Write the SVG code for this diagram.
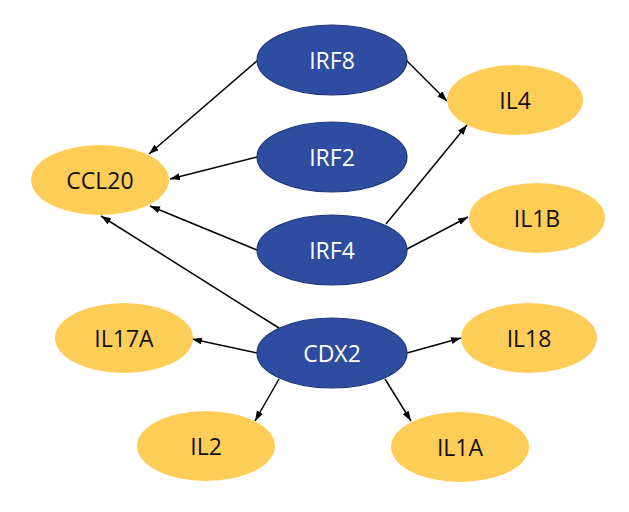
<svg xmlns="http://www.w3.org/2000/svg" width="629" height="512" viewBox="0 0 629 512">
<style>
.tf ellipse{fill:#2E4DA0;stroke:#1E3778;stroke-width:1.2}
.tf text{fill:#ffffff}
.tg ellipse{fill:#FECD58}
.tg text{fill:#111111}
text{font-family:"Open Sans","Noto Sans",sans-serif;font-size:23px;text-anchor:middle}
.edges line{stroke:#000;stroke-width:1.5;marker-end:url(#arr)}
</style>
<defs>
<marker id="arr" markerUnits="userSpaceOnUse" markerWidth="11" markerHeight="8" refX="10" refY="3.5" orient="auto">
<path d="M0,0 L10,3.5 L0,7 z" fill="#000"/>
</marker>
</defs>
<rect width="629" height="512" fill="#ffffff"/>
<g class="edges">
<line x1="257" y1="61" x2="149" y2="154"/>
<line x1="257" y1="157" x2="170" y2="179"/>
<line x1="257" y1="250" x2="150" y2="206"/>
<line x1="279" y1="328" x2="101" y2="216"/>
<line x1="406" y1="60" x2="447" y2="101"/>
<line x1="386" y1="224" x2="467" y2="125"/>
<line x1="407" y1="249" x2="468" y2="217"/>
<line x1="257" y1="353" x2="192" y2="339"/>
<line x1="279" y1="379" x2="255" y2="421"/>
<line x1="407" y1="353" x2="461" y2="338"/>
<line x1="385" y1="379" x2="411" y2="421"/>
</g>
<g id="IRF8" class="tf"><ellipse cx="332" cy="60" rx="75" ry="35"/><text x="332" y="69">IRF8</text></g>
<g id="IRF2" class="tf"><ellipse cx="332" cy="157" rx="75" ry="35"/><text x="332" y="166">IRF2</text></g>
<g id="IRF4" class="tf"><ellipse cx="332" cy="250" rx="75" ry="35"/><text x="332" y="259">IRF4</text></g>
<g id="CDX2" class="tf"><ellipse cx="332" cy="353" rx="75" ry="35"/><text x="332" y="362">CDX2</text></g>
<g id="IL4" class="tg"><ellipse cx="515" cy="100" rx="68" ry="35"/><text x="515" y="109">IL4</text></g>
<g id="CCL20" class="tg"><ellipse cx="100" cy="180" rx="69" ry="35"/><text x="100" y="189">CCL20</text></g>
<g id="IL1B" class="tg"><ellipse cx="537" cy="218" rx="68" ry="35"/><text x="537" y="227">IL1B</text></g>
<g id="IL17A" class="tg"><ellipse cx="124" cy="338" rx="69" ry="35"/><text x="124" y="347">IL17A</text></g>
<g id="IL18" class="tg"><ellipse cx="529" cy="338" rx="68" ry="35"/><text x="529" y="347">IL18</text></g>
<g id="IL2" class="tg"><ellipse cx="206" cy="446" rx="69" ry="35"/><text x="206" y="455">IL2</text></g>
<g id="IL1A" class="tg"><ellipse cx="460" cy="447" rx="69" ry="35"/><text x="460" y="456">IL1A</text></g>
</svg>
